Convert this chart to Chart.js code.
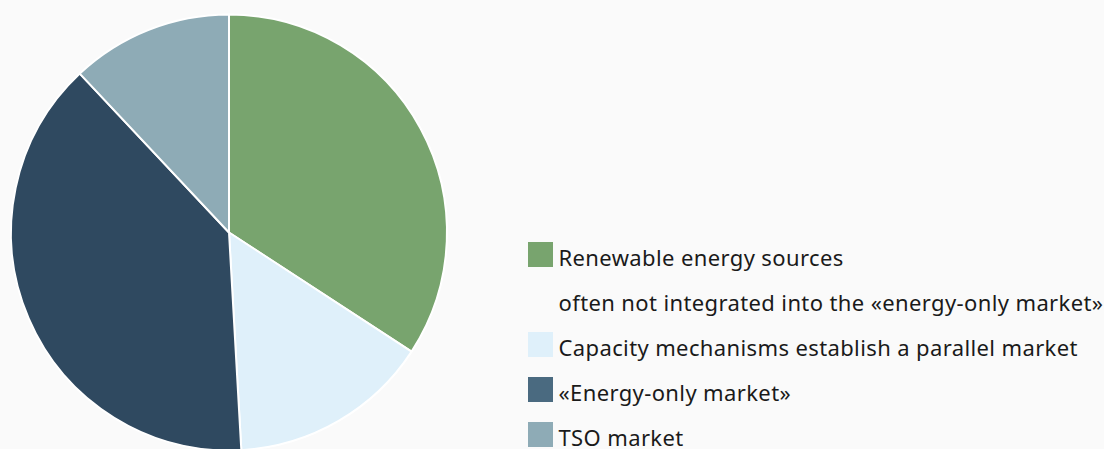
<!DOCTYPE html>
<html>
<head>
<meta charset="utf-8">
<script src="https://cdn.jsdelivr.net/npm/chart.js@4/dist/chart.umd.min.js"></script>
<style>
  html, body { margin: 0; padding: 0; background: #fafafa; overflow: hidden; }
  #wrap { position: relative; width: 1104px; height: 449px; overflow: hidden; }
  #pie { position: absolute; left: 0; top: 0; }
  #legend { position: absolute; left: 528px; top: 242px; font-family: 'Noto Sans', sans-serif; font-size: 22px; letter-spacing: 0.38px; color: #1a1a1a; }
  .row { position: relative; height: 45px; }
  .box { position: absolute; left: 0; top: 0; width: 25px; height: 25px; }
  .txt { position: absolute; left: 30.5px; top: 3px; line-height: 25px; white-space: nowrap; }
</style>
</head>
<body>
<div id="wrap">
  <canvas id="pie" width="458" height="465"></canvas>
  <div id="legend"></div>
</div>
<script>
// slices, clockwise from 12 o'clock
const labels = [
  ['Renewable energy sources', 'often not integrated into the «energy-only market»'],
  'Capacity mechanisms establish a parallel market',
  '«Energy-only market»',
  'TSO market'
];
const values = [34.2, 14.9, 38.9, 12.0];
const sliceColors = ['#78a46e', '#dff0fa', '#2f4960', '#8eabb6'];
const legendColors = ['#78a46e', '#dff0fa', '#4a6a80', '#8eabb6'];

const chart = new Chart(document.getElementById('pie'), {
  type: 'pie',
  data: {
    labels: labels,
    datasets: [{
      data: values,
      backgroundColor: sliceColors,
      borderColor: '#ffffff',
      borderWidth: 2
    }]
  },
  options: {
    responsive: false,
    animation: false,
    layout: { padding: { left: 10, right: 10, top: 13.5, bottom: 13.5 } },
    plugins: {
      legend: { display: false },
      tooltip: { enabled: true }
    }
  }
});

// html legend, one row per text line
const legend = document.getElementById('legend');
labels.forEach((lab, i) => {
  const lines = Array.isArray(lab) ? lab : [lab];
  lines.forEach((line, j) => {
    const row = document.createElement('div');
    row.className = 'row';
    if (j === 0) {
      const box = document.createElement('div');
      box.className = 'box';
      box.style.background = legendColors[i];
      row.appendChild(box);
    }
    const txt = document.createElement('div');
    txt.className = 'txt';
    txt.textContent = line;
    row.appendChild(txt);
    legend.appendChild(row);
  });
});
</script>
</body>
</html>
